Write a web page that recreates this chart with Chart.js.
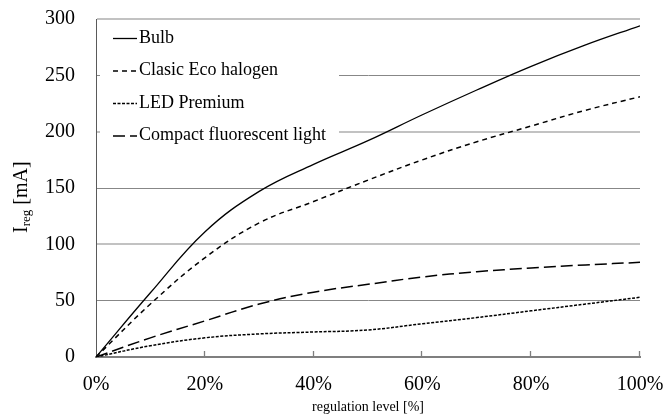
<!DOCTYPE html>
<html>
<head>
<meta charset="utf-8">
<script src="https://cdn.jsdelivr.net/npm/chart.js@4/dist/chart.umd.min.js"></script>
<style>
  html, body { margin: 0; padding: 0; background: #fff; }
  #wrap { width: 665px; height: 416px; }
</style>
</head>
<body>
<div id="wrap"><canvas id="c" width="665" height="416"></canvas></div>
<script>
// Regulation level (%) and measured current per lamp type (mA)
const levels = [0, 10, 20, 30, 40, 50, 60, 70, 80, 90, 100];
const bulb = [0, 57, 111, 147, 171, 192, 215, 237, 258, 277, 294];
const ecoHalogen = [0, 47, 88, 119, 138, 157, 175, 191, 205, 219, 231];
const ledPremium = [0, 10, 17, 20.5, 22.2, 24, 29.5, 35, 41, 47, 53];
const cfl = [0, 17, 32, 47, 57.5, 64.5, 71, 75.7, 79, 81.7, 84];
const seriesNames = ['Bulb', 'Clasic Eco halogen', 'LED Premium', 'Compact fluorescent light'];
const xTicks = [0, 20, 40, 60, 80, 100];
const yTicks = [0, 50, 100, 150, 200, 250, 300];

const serif = '"Liberation Serif", "Times New Roman", serif';

function pts(vals) {
  return levels.map((x, i) => ({ x: x, y: vals[i] }));
}

const styles = [
  { dash: [], width: 1.3 },
  { dash: [5, 4], width: 1.5 },
  { dash: [3, 1.5], width: 1.5 },
  { dash: [12, 5], width: 1.5 }
];

const datasets = [bulb, ecoHalogen, ledPremium, cfl].map((vals, i) => ({
  label: seriesNames[i],
  data: pts(vals),
  borderColor: '#000',
  borderWidth: styles[i].width,
  borderDash: styles[i].dash,
  pointRadius: 0,
  fill: false,
  tension: 0.4
}));

// Legend box drawn inside the plot area, top-left
const innerLegend = {
  id: 'innerLegend',
  afterDatasetsDraw(chart) {
    const ctx = chart.ctx;
    ctx.save();
    ctx.fillStyle = '#fff';
    ctx.fillRect(100, 21, 239, 129);
    ctx.font = '18px ' + serif;
    ctx.textBaseline = 'middle';
    ctx.textAlign = 'left';
    chart.data.datasets.forEach((ds, i) => {
      const y = 38 + i * 32.5;
      ctx.beginPath();
      ctx.setLineDash(ds.borderDash);
      ctx.lineWidth = ds.borderWidth;
      ctx.strokeStyle = '#000';
      ctx.moveTo(113, y + 0.5);
      ctx.lineTo(137, y + 0.5);
      ctx.stroke();
      ctx.setLineDash([]);
      ctx.fillStyle = '#000';
      ctx.fillText(ds.label, 139, y);
    });
    ctx.restore();
  }
};

// Tick marks pointing up into the plot along the bottom axis
const innerTicks = {
  id: 'innerTicks',
  afterDatasetsDraw(chart) {
    const ctx = chart.ctx;
    const xs = chart.scales.x;
    const bottom = chart.chartArea.bottom;
    ctx.save();
    ctx.strokeStyle = '#7f7f7f';
    ctx.lineWidth = 1.3;
    xTicks.slice(1).forEach(v => {
      const px = Math.round(xs.getPixelForValue(v)) - 0.5;
      ctx.beginPath();
      ctx.moveTo(px, bottom);
      ctx.lineTo(px, bottom - 6);
      ctx.stroke();
    });
    ctx.restore();
  }
};

// Rotated y-axis title with subscript: I_reg [mA]
const yTitle = {
  id: 'yTitle',
  afterDraw(chart) {
    const ctx = chart.ctx;
    ctx.save();
    ctx.translate(27, 233);
    ctx.rotate(-Math.PI / 2);
    ctx.fillStyle = '#000';
    ctx.textBaseline = 'alphabetic';
    ctx.textAlign = 'left';
    ctx.font = '20px ' + serif;
    ctx.fillText('I', 0, 0);
    let w = ctx.measureText('I').width;
    ctx.font = '13px ' + serif;
    ctx.fillText('reg', w, 3);
    w += ctx.measureText('reg').width;
    ctx.font = '20px ' + serif;
    ctx.fillText(' [mA]', w, 0);
    ctx.restore();
  }
};

new Chart(document.getElementById('c'), {
  type: 'line',
  data: { datasets: datasets },
  plugins: [innerLegend, innerTicks, yTitle],
  options: {
    responsive: false,
    animation: false,
    devicePixelRatio: 1,
    layout: { padding: { top: 19, right: 25, left: 0, bottom: 0 } },
    plugins: {
      legend: { display: false },
      tooltip: { enabled: false }
    },
    scales: {
      x: {
        type: 'linear',
        min: 0,
        max: 100,
        afterFit(s) {
          s.height = 59;
          s.paddingLeft = 0;
          s.paddingRight = 0;
        },
        afterBuildTicks(s) { s.ticks = xTicks.map(v => ({ value: v })); },
        ticks: {
          color: '#000',
          font: { family: serif, size: 20 },
          padding: 16,
          maxRotation: 0,
          callback: v => v + '%'
        },
        grid: { display: false, drawTicks: false },
        border: { display: true, color: '#7f7f7f', width: 2 },
        title: {
          display: true,
          text: 'regulation level [%]',
          color: '#000',
          font: { family: serif, size: 14 },
          padding: { top: 2, bottom: 0 }
        }
      },
      y: {
        type: 'linear',
        min: 0,
        max: 300,
        afterFit(s) {
          s.width = 96;
          s.paddingTop = 0;
          s.paddingBottom = 0;
        },
        afterBuildTicks(s) { s.ticks = yTicks.map(v => ({ value: v })); },
        ticks: {
          color: '#000',
          font: { family: serif, size: 20 },
          padding: 21
        },
        grid: {
          drawTicks: false,
          color: c => (c.tick && c.tick.value % 100 === 0) ? '#c2c2c2' : '#878787',
          lineWidth: c => (c.tick && c.tick.value % 100 === 0 && c.tick.value !== 0) ? 2 : 1
        },
        border: { display: true, color: '#5a5a5a', width: 1 }
      }
    }
  }
});
</script>
</body>
</html>
